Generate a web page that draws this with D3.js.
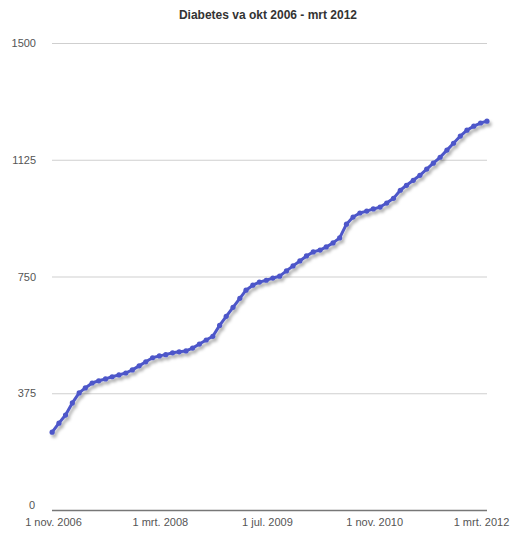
<!DOCTYPE html>
<html>
<head>
<meta charset="utf-8">
<script src="https://cdn.jsdelivr.net/npm/d3@7"></script>
<style>
  body { margin: 0; background: #fff; }
  text { font-family: "Liberation Sans", Arial, sans-serif; }
</style>
</head>
<body>
<div id="chart"></div>
<script>
let width = 515, height = 536;

// months (point taken near end of each month), Oct 2006 .. Mar 2012
let months = d3.range(0, 66).map(i => new Date(2006, 9 + i, 28));
let values = [
    250, 279, 305, 344, 376, 392, 408, 415, 421, 428,
    434, 440, 450, 463, 476, 489, 495, 499, 505, 508,
    511, 520, 533, 546, 558, 593, 622, 651, 680, 706,
    722, 732, 738, 745, 751, 768, 784, 800, 816, 829,
    835, 845, 858, 874, 918, 941, 954, 960, 967, 973,
    986, 1001, 1027, 1043, 1059, 1075, 1095, 1114, 1133, 1156,
    1178, 1201, 1220, 1233, 1243, 1249
];
let yTicks = [0, 375, 750, 1125, 1500];
let xTickDates = [new Date(2006, 10, 1), new Date(2008, 2, 1), new Date(2009, 6, 1), new Date(2010, 10, 1), new Date(2012, 2, 1)];
let xTickLabels = ["1 nov. 2006", "1 mrt. 2008", "1 jul. 2009", "1 nov. 2010", "1 mrt. 2012"];
let title = "Diabetes va okt 2006 - mrt 2012";

let data = months.map((d, i) => ({ date: d, value: values[i] }));

let svg = d3.select("#chart")
    .append("svg")
    .attr("width", width)
    .attr("height", height);

// soft shadow under the line
let filter = svg.append("defs").append("filter")
    .attr("id", "shadow")
    .attr("x", "-10%").attr("y", "-10%")
    .attr("width", "120%").attr("height", "120%");
filter.append("feDropShadow")
    .attr("dx", 2).attr("dy", 3)
    .attr("stdDeviation", 1.6)
    .attr("flood-color", "#000")
    .attr("flood-opacity", 0.3);

let x = d3.scaleTime()
    .domain([xTickDates[0], xTickDates[4]])
    .range([53, 481]);

let y = d3.scaleLinear()
    .domain([0, 1500])
    .range([510, 43]);

// title
svg.append("text")
    .attr("x", 268)
    .attr("y", 19)
    .attr("text-anchor", "middle")
    .attr("font-size", 12)
    .attr("font-weight", "bold")
    .attr("fill", "#333")
    .text(title);

// gridlines + y labels
let yAxis = svg.append("g")
    .attr("transform", "translate(52,0)")
    .call(d3.axisLeft(y).tickValues(yTicks).tickSize(-435).tickPadding(16).tickFormat(d3.format("d")));
yAxis.select(".domain").remove();
yAxis.selectAll(".tick line")
    .attr("stroke", d => d == 0 ? "#777" : "#cfcfcf")
    .attr("stroke-width", d => d == 0 ? 1.5 : 1);
yAxis.selectAll(".tick text")
    .attr("font-size", 11)
    .attr("fill", "#555")
    .attr("font-family", "Liberation Sans, Arial, sans-serif");
yAxis.selectAll(".tick").filter(d => d == 0).select("text")
    .attr("x", -17).attr("dy", "-0.15em");

// x labels
let xAxis = svg.append("g")
    .attr("transform", "translate(0,510)")
    .call(d3.axisBottom(x).tickValues(xTickDates).tickSize(0).tickPadding(8)
        .tickFormat((d, i) => xTickLabels[i]));
xAxis.select(".domain").remove();
xAxis.selectAll(".tick text")
    .attr("font-size", 11)
    .attr("fill", "#555")
    .attr("font-family", "Liberation Sans, Arial, sans-serif");

// the series
let line = d3.line()
    .x(d => x(d.date))
    .y(d => y(d.value));

let series = svg.append("g").attr("filter", "url(#shadow)");

series.append("path")
    .datum(data)
    .attr("d", line)
    .attr("fill", "none")
    .attr("stroke", "#4d57c9")
    .attr("stroke-width", 3)
    .attr("stroke-linejoin", "round");

series.selectAll("circle")
    .data(data)
    .enter()
    .append("circle")
    .attr("cx", d => x(d.date))
    .attr("cy", d => y(d.value))
    .attr("r", 2.6)
    .attr("fill", "#4d57c9");
</script>
</body>
</html>
